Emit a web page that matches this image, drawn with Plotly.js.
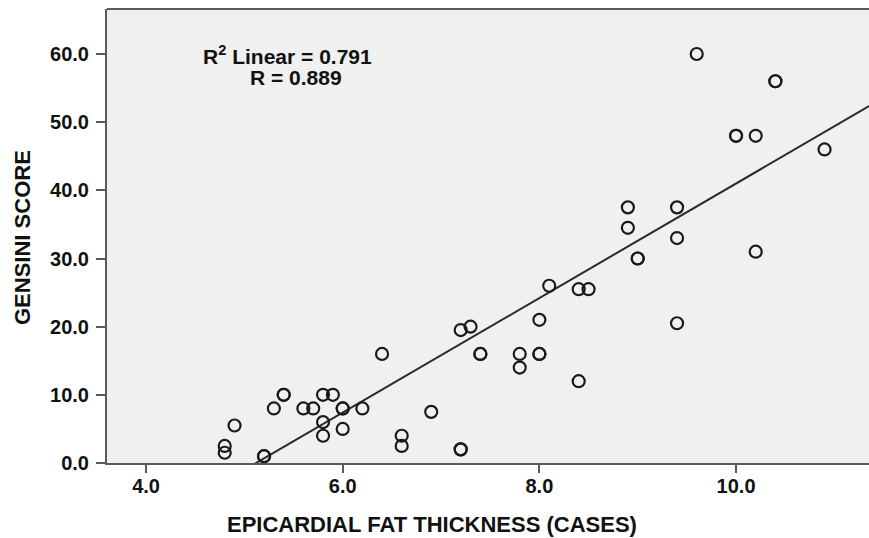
<!DOCTYPE html>
<html>
<head>
<meta charset="utf-8">
<script src="https://cdn.plot.ly/plotly-3.0.1.min.js"></script>
<style>
html, body { margin: 0; padding: 0; background: #ffffff; overflow: hidden; }
#chart { width: 869px; height: 538px; }
</style>
</head>
<body>
<div id="chart"></div>
<script>
// Epicardial fat thickness (cases) vs Gensini score
const fatThickness = [9.6, 10.4, 10.4, 10.0, 10.0, 10.2, 10.9, 8.9, 9.4, 8.9, 9.4, 9.0, 9.0, 10.2,
  8.1, 8.4, 8.5, 9.4, 8.0, 7.2, 7.3, 7.4, 7.4, 6.4, 7.8, 8.0, 8.0, 7.8, 8.4,
  5.4, 5.4, 5.8, 5.9, 5.3, 5.6, 5.7, 6.0, 6.0, 6.2, 6.9, 4.9, 5.8, 6.0, 5.8,
  6.6, 6.6, 4.8, 4.8, 5.2, 5.2, 7.2, 7.2];
const gensiniScore = [60, 56, 56, 48, 48, 48, 46, 37.5, 37.5, 34.5, 33, 30, 30, 31,
  26, 25.5, 25.5, 20.5, 21, 19.5, 20, 16, 16, 16, 16, 16, 16, 14, 12,
  10, 10, 10, 10, 8, 8, 8, 8, 8, 8, 7.5, 5.5, 6, 5, 4,
  4, 2.5, 2.5, 1.5, 1, 1, 2, 2];
// fit line (y = intercept + slope * x)
const fitIntercept = -43.0;
const fitSlope = 8.4;
const xTickVals = [4, 6, 8, 10];
const yTickVals = [0, 10, 20, 30, 40, 50, 60];
const statLine1 = 'R<sup>2</sup> Linear = 0.791';
const statLine2 = 'R = 0.889';
const xTitle = 'EPICARDIAL FAT THICKNESS (CASES)';
const yTitle = 'GENSINI SCORE';

const xRange = [3.603, 11.352];
const yRange = [0, 66.6];

const fitX = [xRange[0], xRange[1]];
const fitY = fitX.map(v => fitIntercept + fitSlope * v);

const frameColor = '#5a5a5a';
const fontFam = '"Liberation Sans", Arial, sans-serif';

const traces = [
  {
    type: 'scatter', mode: 'lines', x: fitX, y: fitY,
    line: { color: '#2a2a2a', width: 2 }, hoverinfo: 'skip', showlegend: false
  },
  {
    type: 'scatter', mode: 'markers', x: fatThickness, y: gensiniScore,
    marker: { symbol: 'circle-open', size: 12, color: '#1a1a1a', line: { width: 2.2, color: '#1a1a1a' } },
    cliponaxis: false, showlegend: false
  }
];

const layout = {
  width: 869, height: 538,
  margin: { l: 107, r: 0, t: 9, b: 75, pad: 0 },
  paper_bgcolor: '#ffffff',
  plot_bgcolor: '#f0f0f0',
  showlegend: false,
  xaxis: {
    range: xRange, tickvals: xTickVals, tickformat: '.1f',
    showgrid: false, zeroline: false,
    showline: true, linecolor: frameColor, linewidth: 2,
    ticks: 'outside', ticklen: 8, tickwidth: 2, tickcolor: frameColor,
    ticklabelstandoff: -4,
    tickfont: { family: fontFam, size: 20, color: '#111', weight: 'bold' }
  },
  yaxis: {
    range: yRange, tickvals: yTickVals, tickformat: '.1f',
    showgrid: false, zeroline: false,
    showline: true, linecolor: frameColor, linewidth: 2,
    ticks: 'outside', ticklen: 9, tickwidth: 2, tickcolor: frameColor,
    ticklabelstandoff: 3,
    tickfont: { family: fontFam, size: 20, color: '#111', weight: 'bold' }
  },
  shapes: [
    { type: 'line', xref: 'paper', yref: 'paper', x0: 0, x1: 1.01, y0: 1, y1: 1,
      line: { color: frameColor, width: 2 } }
  ],
  annotations: [
    { xref: 'paper', yref: 'paper', x: (287 - 107) / 762, y: (463 - 55) / 454,
      xanchor: 'center', yanchor: 'middle', showarrow: false, text: statLine1,
      font: { family: fontFam, size: 21, color: '#111', weight: 'bold' } },
    { xref: 'paper', yref: 'paper', x: (296 - 107) / 762, y: (463 - 77) / 454,
      xanchor: 'center', yanchor: 'middle', showarrow: false, text: statLine2,
      font: { family: fontFam, size: 21, color: '#111', weight: 'bold' } },
    { xref: 'paper', yref: 'paper', x: (432 - 107) / 762, y: 0, yshift: -61,
      xanchor: 'center', yanchor: 'middle', showarrow: false, text: xTitle,
      font: { family: fontFam, size: 22, color: '#111', weight: 'bold' } },
    { xref: 'paper', yref: 'paper', x: 0, xshift: -85, y: (463 - 238) / 454,
      xanchor: 'center', yanchor: 'middle', showarrow: false, text: yTitle, textangle: -90,
      font: { family: fontFam, size: 22, color: '#111', weight: 'bold' } }
  ]
};

Plotly.newPlot('chart', traces, layout, { displayModeBar: false, staticPlot: true });
</script>
</body>
</html>
